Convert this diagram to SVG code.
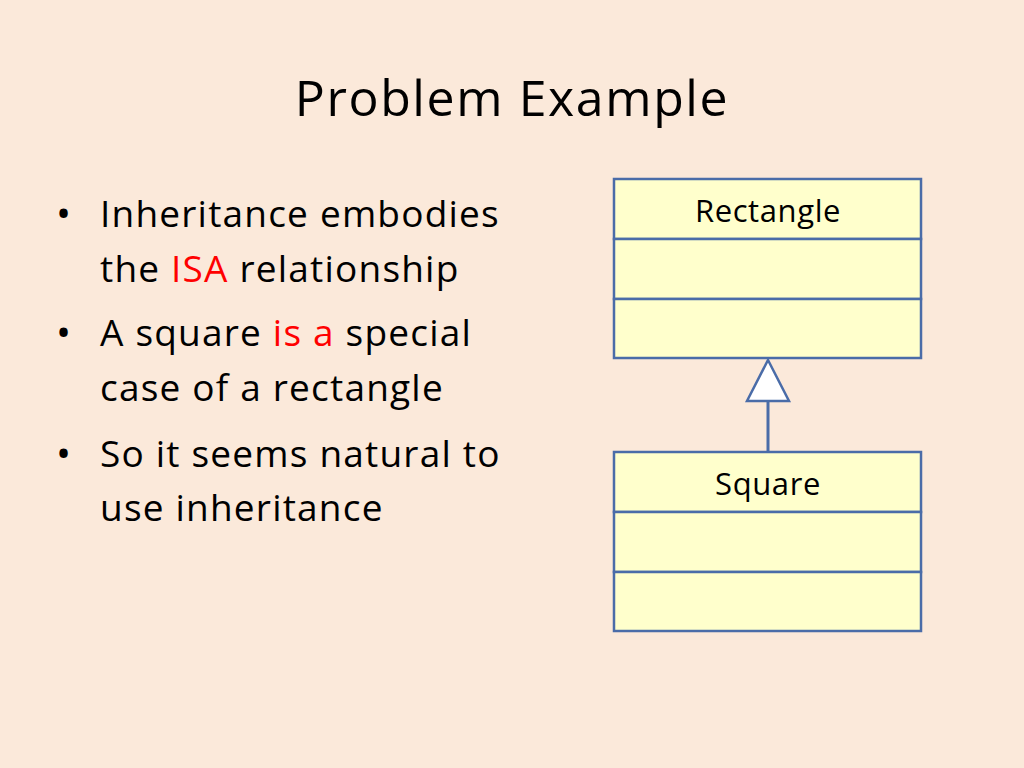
<svg xmlns="http://www.w3.org/2000/svg" width="1024" height="768" viewBox="0 0 1024 768">
<style>
text{font-family:"Open Sans",Lato,"Liberation Sans",sans-serif;fill:#000}
.b{font-size:37px;letter-spacing:1.2px}
.d{font-size:40px}
.r{fill:#FF0000}
.box{fill:#FFFFCC;stroke:#4A6CA8;stroke-width:2.5}
.lbl{font-size:31px;letter-spacing:0.6px;text-anchor:middle}
</style>
<rect width="1024" height="768" fill="#FBE9DA"/>
<text x="512" y="116" font-size="50" letter-spacing="1.6" text-anchor="middle">Problem Example</text>
<g id="bullets">
<text class="d" x="56" y="228">•</text>
<text class="b" x="100" y="227">Inheritance embodies</text>
<text class="b" x="100" y="282">the <tspan class="r">ISA</tspan> relationship</text>
<text class="d" x="56" y="347">•</text>
<text class="b" x="100" y="346">A square <tspan class="r">is a</tspan> special</text>
<text class="b" x="100" y="401">case of a rectangle</text>
<text class="d" x="56" y="468">•</text>
<text class="b" x="100" y="467">So it seems natural to</text>
<text class="b" x="100" y="521">use inheritance</text>
</g>
<g id="rectangle">
<rect class="box" x="614" y="179" width="307" height="60"/>
<rect class="box" x="614" y="239" width="307" height="60"/>
<rect class="box" x="614" y="299" width="307" height="59"/>
<text class="lbl" x="768" y="222">Rectangle</text>
</g>
<g id="square">
<rect class="box" x="614" y="452" width="307" height="60"/>
<rect class="box" x="614" y="512" width="307" height="60"/>
<rect class="box" x="614" y="572" width="307" height="59"/>
<text class="lbl" x="768" y="495">Square</text>
</g>
<g id="connectors">
<line x1="768" y1="452" x2="768" y2="401" stroke="#4A6CA8" stroke-width="3"/>
<polygon points="768,360 789,401 747,401" fill="#FFFFFF" stroke="#4A6CA8" stroke-width="2.5"/>
</g>
</svg>
